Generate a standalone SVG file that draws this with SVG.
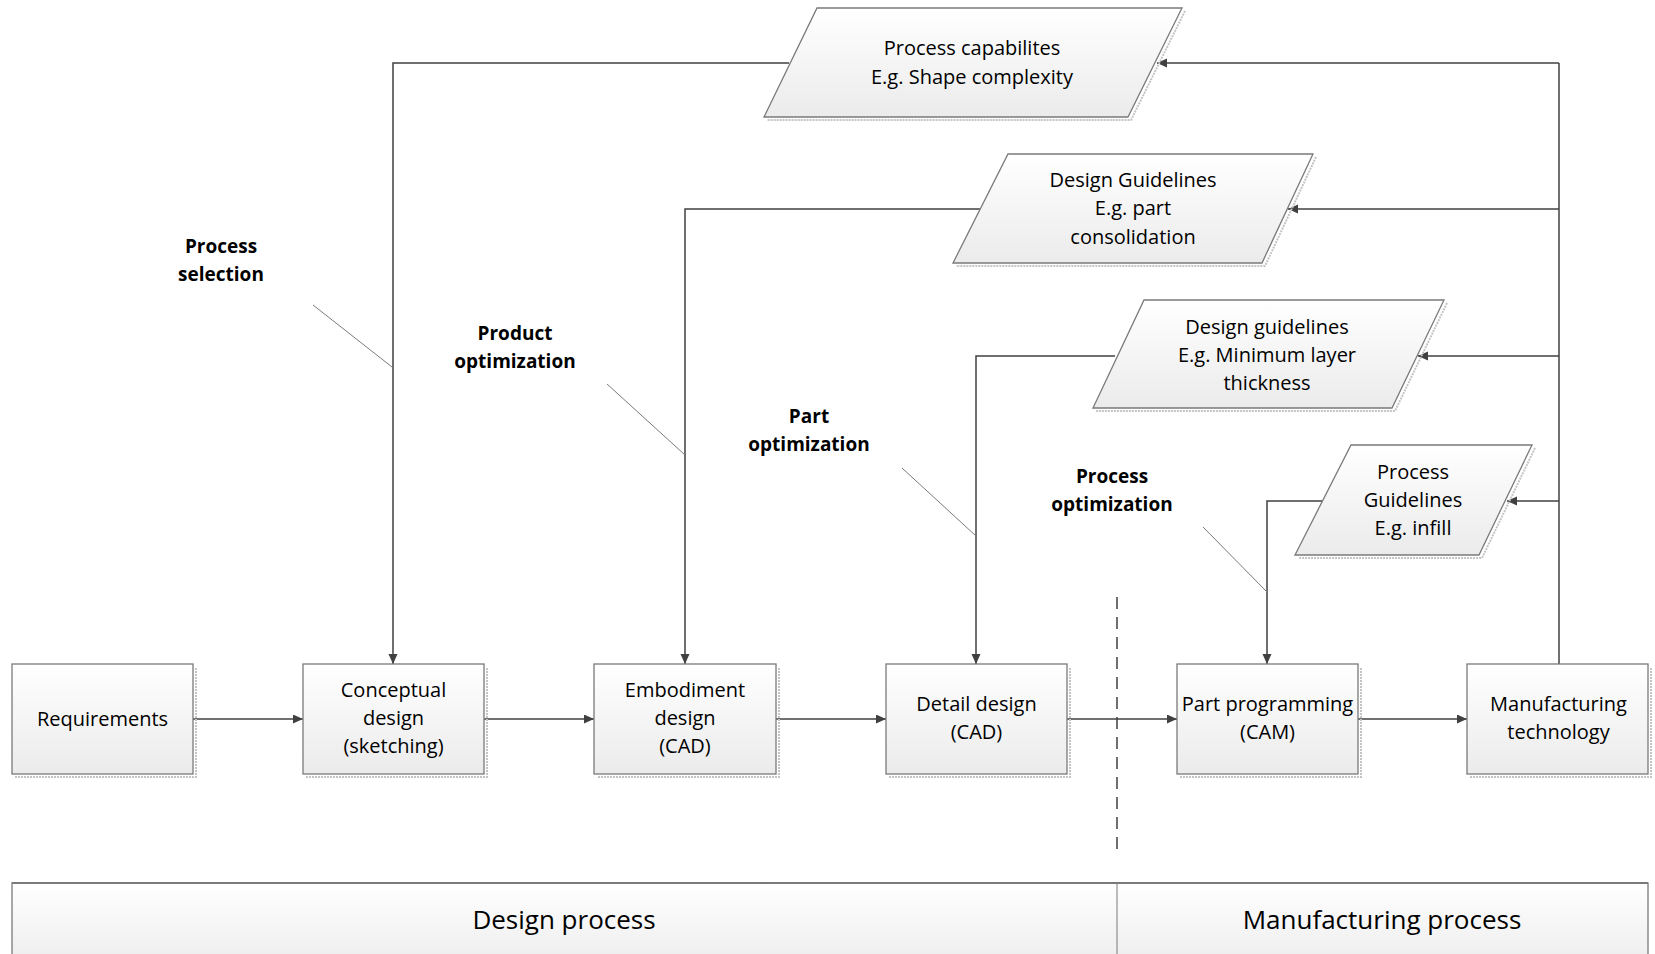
<svg xmlns="http://www.w3.org/2000/svg" width="1655" height="954" viewBox="0 0 1655 954">
  <defs>
    <linearGradient id="fillGrad" x1="0" y1="0" x2="0" y2="1">
      <stop offset="0" stop-color="#ffffff"/>
      <stop offset="1" stop-color="#ebebeb"/>
    </linearGradient>
    <marker id="arrow" markerUnits="userSpaceOnUse" markerWidth="11" markerHeight="10" refX="10" refY="4.5" orient="auto">
      <path d="M0,0 L10,4.5 L0,9 z" fill="#404040"/>
    </marker>
    <style>
      .shape { fill: url(#fillGrad); stroke: #7a7a7a; stroke-width: 1.3; }
      .shadow { fill: none; stroke: #c4c4c4; stroke-width: 2; stroke-dasharray: 2 1; }
      .txt { font-family: "Open Sans", "Liberation Sans", sans-serif; font-size: 20px; fill: #000; text-anchor: middle; }
      .lbl { font-family: "Open Sans", "Liberation Sans", sans-serif; font-size: 19px; font-weight: bold; fill: #000; text-anchor: middle; }
      .band { font-family: "Open Sans", "Liberation Sans", sans-serif; font-size: 26px; fill: #000; text-anchor: middle; }
      .conn { fill: none; stroke: #404040; stroke-width: 1.5; }
      .leader { fill: none; stroke: #7a7a7a; stroke-width: 1; }
    </style>
  </defs>

  <rect width="1655" height="954" fill="#ffffff"/>

  <!-- connectors -->
  <g id="connectors">
    <!-- main chain -->
    <line class="conn" x1="193" y1="719" x2="303" y2="719" marker-end="url(#arrow)"/>
    <line class="conn" x1="484" y1="719" x2="594" y2="719" marker-end="url(#arrow)"/>
    <line class="conn" x1="776" y1="719" x2="886" y2="719" marker-end="url(#arrow)"/>
    <line class="conn" x1="1067" y1="719" x2="1177" y2="719" marker-end="url(#arrow)"/>
    <line class="conn" x1="1358" y1="719" x2="1467" y2="719" marker-end="url(#arrow)"/>
    <!-- feedback trunk from manufacturing technology -->
    <line class="conn" x1="1559" y1="664" x2="1559" y2="63"/>
    <line class="conn" x1="1559" y1="63" x2="1157" y2="63" marker-end="url(#arrow)"/>
    <line class="conn" x1="1559" y1="209" x2="1288" y2="209" marker-end="url(#arrow)"/>
    <line class="conn" x1="1559" y1="356" x2="1418" y2="356" marker-end="url(#arrow)"/>
    <line class="conn" x1="1559" y1="501" x2="1507" y2="501" marker-end="url(#arrow)"/>
    <!-- knowledge fed back into design stages -->
    <polyline class="conn" points="789,63 393,63 393,664" marker-end="url(#arrow)"/>
    <polyline class="conn" points="980,209 685,209 685,664" marker-end="url(#arrow)"/>
    <polyline class="conn" points="1115,356 976,356 976,664" marker-end="url(#arrow)"/>
    <polyline class="conn" points="1322,501 1267,501 1267,664" marker-end="url(#arrow)"/>
    <!-- label leaders -->
    <line class="leader" x1="313" y1="305" x2="392" y2="367"/>
    <line class="leader" x1="607" y1="384" x2="685" y2="455"/>
    <line class="leader" x1="902" y1="468" x2="976" y2="536"/>
    <line class="leader" x1="1203" y1="527" x2="1267" y2="592"/>
    <!-- design / manufacturing boundary -->
    <line x1="1117" y1="597" x2="1117" y2="852" stroke="#404040" stroke-width="1.5" stroke-dasharray="12 8"/>
  </g>

  <!-- stage boxes -->
  <g id="requirements">
    <polyline class="shadow" points="196,668 196,777 15,777"/>
    <rect class="shape" x="12" y="664" width="181" height="110"/>
    <text class="txt" x="102.5" y="726">Requirements</text>
  </g>
  <g id="conceptual-design">
    <polyline class="shadow" points="487,668 487,777 306,777"/>
    <rect class="shape" x="303" y="664" width="181" height="110"/>
    <text class="txt" x="393.5" y="697">Conceptual</text>
    <text class="txt" x="393.5" y="725">design</text>
    <text class="txt" x="393.5" y="753">(sketching)</text>
  </g>
  <g id="embodiment-design">
    <polyline class="shadow" points="779,668 779,777 597,777"/>
    <rect class="shape" x="594" y="664" width="182" height="110"/>
    <text class="txt" x="685" y="697">Embodiment</text>
    <text class="txt" x="685" y="725">design</text>
    <text class="txt" x="685" y="753">(CAD)</text>
  </g>
  <g id="detail-design">
    <polyline class="shadow" points="1070,668 1070,777 889,777"/>
    <rect class="shape" x="886" y="664" width="181" height="110"/>
    <text class="txt" x="976.5" y="711">Detail design</text>
    <text class="txt" x="976.5" y="739">(CAD)</text>
  </g>
  <g id="part-programming">
    <polyline class="shadow" points="1361,668 1361,777 1180,777"/>
    <rect class="shape" x="1177" y="664" width="181" height="110"/>
    <text class="txt" x="1267.5" y="711">Part programming</text>
    <text class="txt" x="1267.5" y="739">(CAM)</text>
  </g>
  <g id="manufacturing-technology">
    <polyline class="shadow" points="1651,668 1651,777 1470,777"/>
    <rect class="shape" x="1467" y="664" width="181" height="110"/>
    <text class="txt" x="1558.5" y="711">Manufacturing</text>
    <text class="txt" x="1558.5" y="739">technology</text>
  </g>

  <!-- knowledge inputs -->
  <g id="process-capabilities">
    <polyline class="shadow" points="1185,11 1131,120 767,120"/>
    <polygon class="shape" points="817,8 1182,8 1128,117 764,117"/>
    <text class="txt" x="972" y="55">Process capabilites</text>
    <text class="txt" x="972" y="84">E.g. Shape complexity</text>
  </g>
  <g id="design-guidelines-consolidation">
    <polyline class="shadow" points="1316,157 1265,266 956,266"/>
    <polygon class="shape" points="1008,154 1313,154 1262,263 953,263"/>
    <text class="txt" x="1133" y="187">Design Guidelines</text>
    <text class="txt" x="1133" y="215">E.g. part</text>
    <text class="txt" x="1133" y="244">consolidation</text>
  </g>
  <g id="design-guidelines-layer">
    <polyline class="shadow" points="1447,303 1395,411 1096,411"/>
    <polygon class="shape" points="1144,300 1444,300 1392,408 1093,408"/>
    <text class="txt" x="1267" y="334">Design guidelines</text>
    <text class="txt" x="1267" y="362">E.g. Minimum layer</text>
    <text class="txt" x="1267" y="390">thickness</text>
  </g>
  <g id="process-guidelines">
    <polyline class="shadow" points="1535,448 1482,558 1298,558"/>
    <polygon class="shape" points="1351,445 1532,445 1479,555 1295,555"/>
    <text class="txt" x="1413" y="479">Process</text>
    <text class="txt" x="1413" y="507">Guidelines</text>
    <text class="txt" x="1413" y="535">E.g. infill</text>
  </g>

  <!-- feedback loop labels -->
  <g id="label-process-selection">
    <text class="lbl" x="221" y="253">Process</text>
    <text class="lbl" x="221" y="281">selection</text>
  </g>
  <g id="label-product-optimization">
    <text class="lbl" x="515" y="340">Product</text>
    <text class="lbl" x="515" y="368">optimization</text>
  </g>
  <g id="label-part-optimization">
    <text class="lbl" x="809" y="423">Part</text>
    <text class="lbl" x="809" y="451">optimization</text>
  </g>
  <g id="label-process-optimization">
    <text class="lbl" x="1112" y="483">Process</text>
    <text class="lbl" x="1112" y="511">optimization</text>
  </g>

  <!-- phase band -->
  <g id="phase-band">
    <rect class="shape" x="12" y="883" width="1636" height="90"/>
    <line x1="12" y1="883" x2="1648" y2="883" stroke="#7a7a7a" stroke-width="2"/>
    <line x1="1117" y1="883" x2="1117" y2="954" stroke="#7a7a7a" stroke-width="1"/>
    <text class="band" x="564" y="929">Design process</text>
    <text class="band" x="1382" y="929">Manufacturing process</text>
  </g>
</svg>
